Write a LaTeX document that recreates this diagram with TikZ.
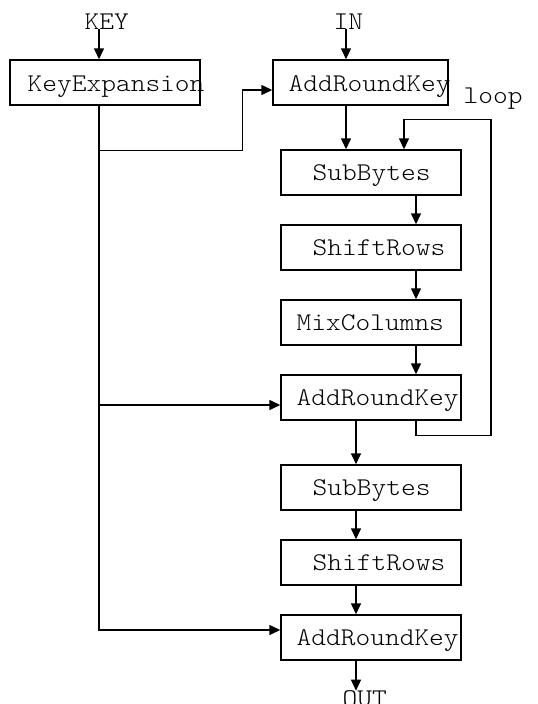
\documentclass[tikz,border=0pt]{standalone}
\usepackage{fontspec}
\newfontfamily\boxfont{Latin Modern Mono Light}[FakeStretch=1.1]
\usepackage{tikz}
\usetikzlibrary{arrows.meta}

\begin{document}
\begin{tikzpicture}[x=1pt,y=-1pt,line width=1.4pt,
        >={Triangle[length=11pt,width=10pt]},
        box/.style={draw,minimum height=45,inner sep=0},
        lbl/.style={anchor=base west,inner sep=0,font=\fontsize{25.5}{30}\selectfont\boxfont}]
        \useasboundingbox (0,0) rectangle (538,704);

        % boxes
        \node[box,minimum width=190] (keyexp) at (105,82.5) {};
        \node[box,minimum width=175] (ark1) at (360.5,82.5) {};
        \node[box,minimum width=180] (sb1) at (371,172.5) {};
        \node[box,minimum width=180] (sr1) at (371,247.5) {};
        \node[box,minimum width=180] (mc) at (371,322.5) {};
        \node[box,minimum width=180] (ark2) at (371,397.5) {};
        \node[box,minimum width=180] (sb2) at (371,487.5) {};
        \node[box,minimum width=180] (sr2) at (371,562.5) {};
        \node[box,minimum width=180] (ark3) at (371,637.5) {};

        % texts
        \node[lbl] (keytxt) at (84,29) {KEY};
        \node[lbl] (intxt) at (333,29) {IN};
        \node[lbl] (looptxt) at (463,103) {loop};
        \node[lbl] (outtxt) at (342,706) {OUT};
        \node[lbl] (keyexptxt) at (27,91) {KeyExpansion};
        \node[lbl] (ark1txt) at (288,91) {AddRoundKey};
        \node[lbl] (sb1txt) at (312,180) {SubBytes};
        \node[lbl] (sr1txt) at (312,255) {ShiftRows};
        \node[lbl] (mctxt) at (296,330) {MixColumns};
        \node[lbl] (ark2txt) at (296,405) {AddRoundKey};
        \node[lbl] (sb2txt) at (312,495) {SubBytes};
        \node[lbl] (sr2txt) at (312,570) {ShiftRows};
        \node[lbl] (ark3txt) at (296,645) {AddRoundKey};

        \coordinate (kdown) at ([xshift=-6pt]keyexp.south);
        \coordinate (ark1in) at ([yshift=-7.5pt]ark1.west);
        \coordinate (ark2in) at ([yshift=-7.5pt]ark2.west);
        \coordinate (ark3in) at ([yshift=7.5pt]ark3.west);

        % inputs
        \draw[->] ([xshift=-6pt,yshift=30pt]keyexp.north) -- ([xshift=-6pt]keyexp.north);
        \draw[->] ([xshift=-14.5pt,yshift=30pt]ark1.north) -- ([xshift=-14.5pt]ark1.north);

        % round keys
        \draw[->] (kdown) |- (ark3in);
        \draw[->] (kdown) -- ++(0,45) -| ([xshift=-30pt]ark1in) -- (ark1in);
        \draw[->] (kdown |- ark2in) -- (ark2in);

        % rounds
        \draw[->] ([xshift=-14.5pt]ark1.south) -- ([xshift=-14.5pt]ark1.south |- sb1.north);
        \foreach \a/\b in {sb1/sr1,sr1/mc,mc/ark2}
            \draw[->] ([xshift=45pt]\a.south) -- ([xshift=45pt]\b.north);
        \foreach \a/\b in {ark2/sb2,sb2/sr2,sr2/ark3}
            \draw[->] ([xshift=-15pt]\a.south) -- ([xshift=-15pt]\b.north);
        \draw[->] ([xshift=-15pt]ark3.south) -- ++(0,30);

        % loop back
        \draw[->] ([xshift=45pt]ark2.south) -- ++(0,15) -| ([xshift=120pt,yshift=30pt]sb1.north) -| ([xshift=33pt]sb1.north);
    \end{tikzpicture}
\end{document}
